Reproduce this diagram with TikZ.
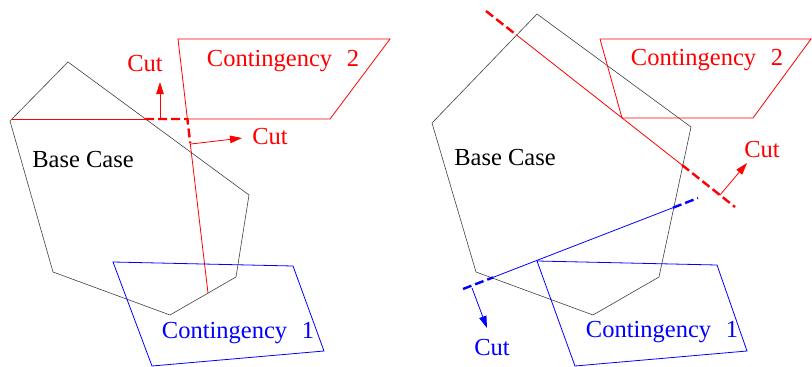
\documentclass[tikz,border=0pt]{standalone}
\usepackage{fontspec}
\setmainfont{Liberation Serif}
\usetikzlibrary{arrows.meta}
\begin{document}
\begin{tikzpicture}[x=1pt,y=-1pt,
  base/.style={draw=black!75, line width=0.6pt, line join=miter},
  redl/.style={draw=red, line width=0.8pt},
  bluel/.style={draw=blue, line width=0.8pt},
  cutdash/.style={line width=2.4pt, dash pattern=on 9pt off 4pt},
  cutarrow/.style={line width=0.8pt, -{Triangle[length=12pt,width=7.5pt]}},
  lbl/.style={font=\fontsize{24.5}{27}\selectfont, inner sep=0pt}]
\useasboundingbox (0,0) rectangle (812,367);

% ---------- left panel ----------
\coordinate (b1) at (68,62);
\coordinate (b2) at (10,121);
\coordinate (b3) at (53,272);
\coordinate (b4) at (170,315);
\coordinate (b5) at (236,277);
\coordinate (b6) at (249,195);
\draw[base] (b1) -- (b2) -- (b3) -- (b4) -- (b5) -- (b6) -- cycle;

\coordinate (c2a) at (178,39);
\coordinate (c2b) at (390,39);
\coordinate (c2c) at (330,119);
\coordinate (c2l) at (12,119);
\coordinate (h1) at (145,119);
\coordinate (h2) at (187.4,119);
\coordinate (v2) at (190.2,143);
\coordinate (vend) at (208,293);
\draw[redl] (c2l) -- (h1);
\draw[redl] (h2) -- (c2c) -- (c2b) -- (c2a) -- (h2);
\draw[redl] (v2) -- (vend);
\draw[red, cutdash] (h1) -- (h2) -- (v2);

\coordinate (a1s) at (160,119);
\coordinate (a1e) at (160,82);
\coordinate (a2s) at (191,144);
\coordinate (a2e) at (242,138);
\draw[red, cutarrow] (a1s) -- (a1e);
\draw[red, cutarrow] (a2s) -- (a2e);
\node[lbl, text=red] (cutL1) at (145,64) {Cut};
\node[lbl, text=red] (cutL2) at (270,137) {Cut};

\coordinate (c1a) at (113,262);
\coordinate (c1b) at (293,266);
\coordinate (c1c) at (324,351);
\coordinate (c1d) at (152,366);
\draw[bluel] (c1a) -- (c1b) -- (c1c) -- (c1d) -- cycle;

\node[lbl] (baseL) at (83,160) {Base Case};
\node[lbl, text=red] (cont2L) at (283,61) {Contingency\hspace{0.6em}2};
\node[lbl, text=blue] (cont1L) at (238,333) {Contingency\hspace{0.6em}1};

% ---------- right panel ----------
\coordinate (r1) at (537,14);
\coordinate (r2) at (432,123);
\coordinate (r3) at (476,272);
\coordinate (r4) at (593,315);
\coordinate (r5) at (659,277);
\coordinate (r6) at (691,127);
\draw[base] (r1) -- (r2) -- (r3) -- (r4) -- (r5) -- (r6) -- cycle;

\coordinate (d2a) at (600,39);
\coordinate (d2b) at (811,39);
\coordinate (d2c) at (753,118);
\coordinate (d2d) at (622,118);
\draw[redl] (d2a) -- (d2b) -- (d2c) -- (d2d) -- cycle;

\coordinate (rc1) at (486,11);
\coordinate (rc2) at (516,34.6);
\coordinate (rc3) at (682,165);
\coordinate (rc4) at (735,207);
\draw[red, cutdash] (rc1) -- (rc2);
\draw[redl] (rc2) -- (rc3);
\draw[red, cutdash] (rc3) -- (rc4);
\coordinate (ra1) at (720,195);
\coordinate (ra2) at (747,163);
\draw[red, cutarrow] (ra1) -- (ra2);
\node[lbl, text=red] (cutR1) at (762,150) {Cut};

\coordinate (d1a) at (537,261);
\coordinate (d1b) at (717,265);
\coordinate (d1c) at (747,351);
\coordinate (d1d) at (575,366);
\draw[bluel] (d1a) -- (d1b) -- (d1c) -- (d1d) -- cycle;

\coordinate (bc1) at (463,289);
\coordinate (bc2) at (493,277.4);
\coordinate (bc3) at (673,207.7);
\coordinate (bc4) at (698,198);
\draw[blue, cutdash] (bc1) -- (bc2);
\draw[bluel] (bc2) -- (bc3);
\draw[blue, cutdash] (bc3) -- (bc4);
\coordinate (ba1) at (472,288);
\coordinate (ba2) at (487,328);
\draw[blue, cutarrow] (ba1) -- (ba2);
\node[lbl, text=blue] (cutR2) at (492,348) {Cut};

\node[lbl] (baseR) at (505,158) {Base Case};
\node[lbl, text=red] (cont2R) at (707,60) {Contingency\hspace{0.6em}2};
\node[lbl, text=blue] (cont1R) at (662,332) {Contingency\hspace{0.6em}1};
\end{tikzpicture}
\end{document}
